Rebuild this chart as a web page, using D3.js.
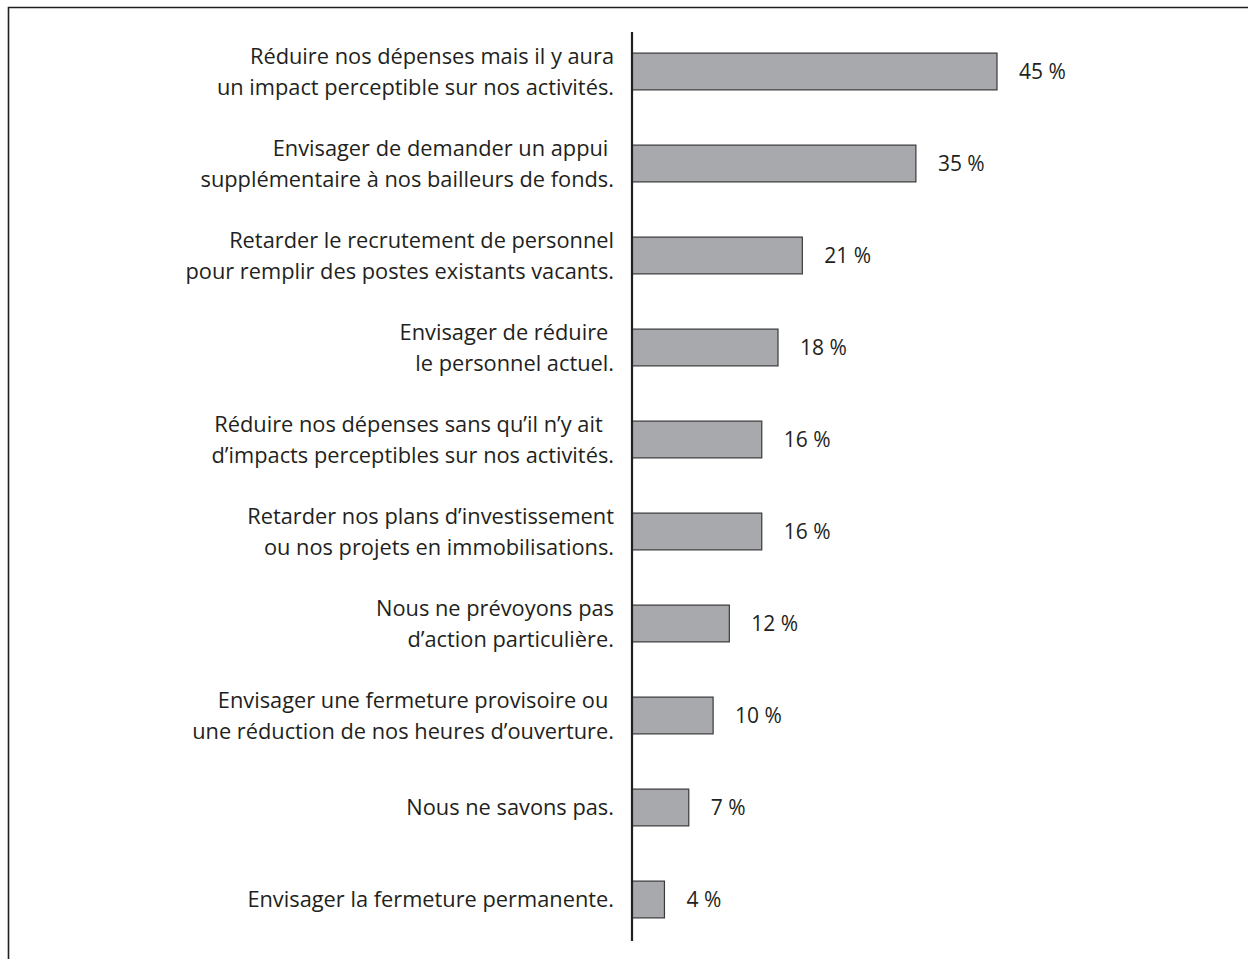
<!DOCTYPE html>
<html>
<head>
<meta charset="utf-8">
<script src="https://cdn.jsdelivr.net/npm/d3@7"></script>
<style>
  html, body { margin: 0; padding: 0; background: #fff; }
  svg { display: block; }
  text { font-family: "Open Sans", "Noto Sans", sans-serif; fill: #231f20; white-space: pre; }
</style>
</head>
<body>
<svg id="chart" width="1248" height="959"></svg>
<script>
// Response categories (label lines) and share of respondents, in %
const categories = [
  ["Réduire nos dépenses mais il y aura", "un impact perceptible sur nos activités."],
  ["Envisager de demander un appui ", "supplémentaire à nos bailleurs de fonds."],
  ["Retarder le recrutement de personnel", "pour remplir des postes existants vacants."],
  ["Envisager de réduire ", "le personnel actuel."],
  ["Réduire nos dépenses sans qu\u2019il n\u2019y ait  ", "d\u2019impacts perceptibles sur nos activités."],
  ["Retarder nos plans d\u2019investissement", "ou nos projets en immobilisations."],
  ["Nous ne prévoyons pas", "d\u2019action particulière."],
  ["Envisager une fermeture provisoire ou ", "une réduction de nos heures d\u2019ouverture."],
  ["Nous ne savons pas."],
  ["Envisager la fermeture permanente."]
];
const values = [45, 35, 21, 18, 16, 16, 12, 10, 7, 4];
const valueLabels = ["45 %", "35 %", "21 %", "18 %", "16 %", "16 %", "12 %", "10 %", "7 %", "4 %"];

const svg = d3.select("#chart");
const ink = "#231f20";

// Outer frame (top and left edges)
svg.append("path")
  .attr("d", "M8.5,959 V7.5 H1248")
  .attr("fill", "none")
  .attr("stroke", ink)
  .attr("stroke-width", 1.6);

const x0 = 632;
const x = d3.scaleLinear().domain([0, 45]).range([x0, 997]);
const y = d3.scaleBand()
  .domain(d3.range(values.length))
  .range([25.5, 945.5])
  .paddingInner(0.6)
  .paddingOuter(0.3);

// Bars
svg.append("g").selectAll("rect")
  .data(values)
  .join("rect")
  .attr("x", x0)
  .attr("y", (d, i) => y(i))
  .attr("width", d => x(d) - x0)
  .attr("height", y.bandwidth())
  .attr("fill", "#a7a9ac")
  .attr("stroke", "#3a3a3a")
  .attr("stroke-width", 1.2);

// Vertical baseline
svg.append("line")
  .attr("x1", x0).attr("x2", x0)
  .attr("y1", 32).attr("y2", 941)
  .attr("stroke", ink)
  .attr("stroke-width", 2.2);

// Value labels
svg.append("g").selectAll("text")
  .data(values)
  .join("text")
  .attr("x", d => x(d) + 22)
  .attr("y", (d, i) => y(i) + y.bandwidth() / 2 + 7.5)
  .attr("font-size", 21)
  .text((d, i) => valueLabels[i]);

// Category labels, right-aligned against the axis
const lineGap = 31;
const labels = svg.append("g").selectAll("text")
  .data(categories)
  .join("text")
  .attr("text-anchor", "end")
  .attr("font-size", 21.8)
  .attr("y", (d, i) => y(i) + y.bandwidth() / 2 + 7.5 - (d.length - 1) * lineGap / 2);

labels.selectAll("tspan")
  .data(d => d)
  .join("tspan")
  .attr("x", 614)
  .attr("dy", (d, j) => j === 0 ? 0 : lineGap)
  .text(d => d);
</script>
</body>
</html>
